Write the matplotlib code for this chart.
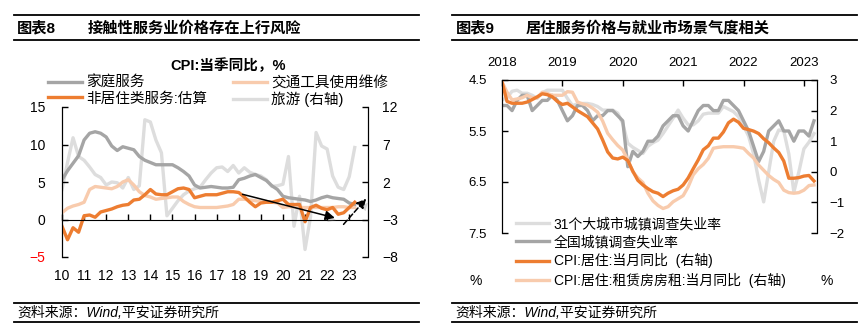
import matplotlib.pyplot as plt
import matplotlib.patheffects as pe
from matplotlib.lines import Line2D
import numpy as np

plt.rcParams['font.family'] = ['Liberation Sans', 'Noto Sans CJK SC']

# ---- 图表8: quarterly, 2010Q1 - 2023Q2 ----
q_start = 2010
home_service = [5.3, 6.5, 7.5, 8.5, 10.6, 11.5, 11.7, 11.5, 11.0, 9.8,
                9.2, 9.7, 9.5, 9.3, 8.4, 7.9, 7.6, 7.3, 7.3, 7.3,
                7.3, 6.9, 6.4, 5.8, 4.6, 4.2, 4.3, 4.4, 4.3, 4.2,
                4.2, 4.3, 5.3, 5.5, 5.8, 6.0, 5.6, 5.2, 4.5, 4.0,
                3.1, 2.9, 2.8, 2.7, 2.6, 2.4, 2.6, 2.9, 3.1, 2.9,
                2.8, 2.7, 2.2, 2.0]
vehicle_repair = [0.9, 1.5, 1.8, 2.0, 2.3, 4.0, 4.4, 4.3, 4.2, 4.1,
                  4.4, 5.0, 5.3, 4.6, 3.7, 3.2, 3.0, 2.7, 2.8, 2.9,
                  3.0, 3.0, 2.4, 2.0, 1.7, 1.6, 1.6, 1.6, 1.6, 1.7,
                  1.8, 2.0, 2.7, 2.7, 2.6, 2.5, 2.4, 2.4, 2.3, 2.2,
                  1.6, 1.7, 1.7, 1.6, 1.6, 1.6, 1.6, 1.6, 1.6, 1.6,
                  1.7, 1.7, 1.6, 1.6]
non_housing = [-0.9, -2.7, -1.1, -1.7, 0.5, 0.6, 0.3, 1.0, 1.2, 1.4,
               1.7, 1.9, 2.0, 2.6, 2.7, 3.3, 4.0, 3.4, 3.3, 3.3,
               3.7, 4.1, 4.2, 4.0, 2.9, 3.1, 3.3, 3.3, 3.3, 3.5,
               3.7, 3.7, 3.6, 3.0, 2.3, 1.7, 2.2, 2.3, 2.3, 2.5,
               2.7, 2.0, 2.0, 2.0, -0.3, 1.6, 1.9, 1.5, 1.3, 1.6,
               0.7, 0.9, 1.6, 2.3]
tourism = [1.0, 4.6, 7.9, 5.4, 4.9, 4.0, 3.0, 2.6, 1.6, 2.0,
           1.9, 1.2, 2.6, 1.0, 1.5, 10.3, 10.0, 7.6, 5.9, -2.5,
           -1.5, -0.5, 0.3, 0.8, 1.1, 1.3, 2.3, 3.2, 3.9, 4.0,
           3.4, 4.2, 3.2, 3.9, 3.3, 3.0, 2.8, 2.3, 1.4, 1.5,
           1.7, 5.4, -3.9, 0.1, -7.0, -2.6, 8.6, 6.8, 6.4, 2.8,
           1.3, 1.0, 2.7, 6.6]
years8 = list(range(2010, 2024))
year_labels8 = [str(y)[2:] for y in years8]

# ---- 图表9: monthly, 2018-01 - 2023-03 ----
unemp_31 = [4.89, 4.85, 4.72, 4.7, 4.76, 4.76, 4.8, 4.86, 4.75, 4.7,
            4.7, 4.7, 4.7, 4.86, 5.0, 4.97, 4.96, 4.96, 4.98, 5.02,
            5.09, 5.09, 5.09, 5.15, 5.35, 5.74, 5.82, 5.88, 5.94, 5.8,
            5.73, 5.68, 5.55, 5.4, 5.25, 5.09, 5.25, 5.38, 5.38, 5.3,
            5.17, 5.15, 5.15, 5.15, 5.02, 5.07, 5.12, 5.22, 5.4, 5.6,
            5.95, 6.46, 6.89, 6.3, 5.7, 5.48, 5.5, 5.95, 6.7, 6.3,
            5.85, 5.72, 5.55]
unemp_nat = [5.0, 5.0, 5.1, 4.9, 4.8, 4.8, 5.1, 5.0, 4.9, 4.9,
             4.8, 4.9, 5.1, 5.3, 5.2, 5.0, 5.0, 5.1, 5.3, 5.2,
             5.2, 5.1, 5.1, 5.2, 5.3, 6.2, 5.9, 6.0, 5.9, 5.7,
             5.7, 5.6, 5.4, 5.3, 5.2, 5.2, 5.4, 5.5, 5.3, 5.1,
             5.0, 5.0, 5.1, 5.1, 4.9, 4.9, 5.0, 5.1, 5.3, 5.5,
             5.8, 6.1, 5.9, 5.5, 5.4, 5.3, 5.5, 5.5, 5.7, 5.5,
             5.5, 5.6, 5.3]
cpi_housing = [2.94, 2.3, 2.24, 2.24, 2.24, 2.28, 2.36, 2.45, 2.55, 2.52,
               2.45, 2.3, 2.2, 2.24, 2.12, 2.0, 1.9, 1.8, 1.6, 1.4,
               1.04, 0.65, 0.45, 0.42, 0.48, 0.37, 0.02, -0.28, -0.43, -0.55,
               -0.65, -0.7, -0.81, -0.7, -0.62, -0.57, -0.43, -0.2, 0.1, 0.39,
               0.72, 0.85, 1.1, 1.1, 1.3, 1.6, 1.72, 1.62, 1.42, 1.38,
               1.33, 1.25, 1.08, 0.95, 0.78, 0.63, 0.35, -0.21, -0.21, -0.19,
               -0.14, -0.12, -0.3]
cpi_rent = [2.94, 2.6, 2.35, 2.38, 2.42, 2.5, 2.42, 2.42, 2.6, 2.56,
            2.5, 2.5, 2.5, 2.62, 2.6, 2.28, 2.22, 2.18, 2.08, 1.95,
            1.66, 1.26, 1.05, 0.86, 0.71, 0.39, 0.0, -0.2, -0.35, -0.7,
            -0.95, -1.1, -1.2, -1.14, -0.98, -0.88, -0.78, -0.49, -0.1, 0.1,
            0.24, 0.44, 0.77, 0.8, 0.82, 0.82, 0.82, 0.8, 0.77, 0.6,
            0.45, 0.22, 0.05, -0.12, -0.25, -0.35, -0.6, -0.68, -0.7, -0.68,
            -0.6, -0.45, -0.43]
years9 = ['2018', '2019', '2020', '2021', '2022', '2023']

ORANGE = '#ED7D31'
PEACH = '#F8CBAD'
GRAY = '#A5A5A5'
LIGHT = '#DDDDDD'

fig = plt.figure(figsize=(8.68, 3.32), dpi=100)
W, H = 868.0, 332.0


def fx(px):
    return px / W


def fy(py):
    return 1 - py / H


# headers / footers
for x0, x1 in [(14, 419), (452, 857)]:
    for yy in [15, 40, 303, 322]:
        fig.add_artist(Line2D([fx(x0), fx(x1)], [fy(yy), fy(yy)], color='black', lw=1.3))
fig.text(fx(17), fy(28), '图表8', fontsize=11, fontweight='bold', va='center')
fig.text(fx(88), fy(28), '接触性服务业价格存在上行风险', fontsize=11, fontweight='bold', va='center')
fig.text(fx(456), fy(28), '图表9', fontsize=11, fontweight='bold', va='center')
fig.text(fx(526), fy(28), '居住服务价格与就业市场景气度相关', fontsize=11, fontweight='bold', va='center')
fig.text(fx(17), fy(313), '资料来源：Wind,平安证券研究所', fontsize=10, style='italic', va='center')
fig.text(fx(455), fy(313), '资料来源：Wind,平安证券研究所', fontsize=10, style='italic', va='center')

# ---------------- left chart ----------------
xq = q_start + 0.25 * np.arange(len(home_service))
ax1 = fig.add_axes([fx(62), fy(257), fx(306), 150 / H])
ax1r = ax1.twinx()
ax1r.plot(xq, tourism, color=LIGHT, lw=2.4, label='旅游 (右轴)')
ax1.set_zorder(ax1r.get_zorder() + 1)
ax1.patch.set_visible(False)
ax1.plot(xq, home_service, color=GRAY, lw=2.4, label='家庭服务')
ax1.plot(xq, vehicle_repair, color=PEACH, lw=2.4, label='交通工具使用维修')
ax1.plot(xq, non_housing, color=ORANGE, lw=2.4, label='非居住类服务:估算')

ax1.set_xlim(2010, 2023.85)
ax1.set_ylim(-5, 15)
ax1r.set_ylim(-8, 12)
ax1.set_yticks([15, 10, 5, 0, -5])
ax1r.set_yticks([12, 7, 2, -3, -8])
ax1.set_xticks(years8)
ax1.set_xticklabels(year_labels8)
ax1.get_yticklabels()[-1].set_color('red')
for a in (ax1, ax1r):
    a.spines['top'].set_visible(False)
    a.tick_params(direction='in', length=4, width=1, labelsize=10)
ax1r.spines['bottom'].set_visible(False)
ax1.spines['bottom'].set_position(('data', 0))
ax1.tick_params(axis='y', pad=12)
ax1r.tick_params(axis='y', pad=10)
ax1.tick_params(axis='x', pad=36)

a1 = ax1.annotate('', xy=(2022.47, 0.13), xytext=(2018.05, 3.45),
                  arrowprops=dict(arrowstyle='-|>', color='black', lw=1.1, mutation_scale=14),
                  annotation_clip=False)
a2 = ax1.annotate('', xy=(2023.85, 3.05), xytext=(2022.66, -0.93),
                  arrowprops=dict(arrowstyle='-|>', color='black', lw=1.1, ls='--', mutation_scale=14),
                  annotation_clip=False)
for a in (a1, a2):
    a.arrow_patch.set_path_effects([pe.withSimplePatchShadow(offset=(2, -2), shadow_rgbFace='gray', alpha=0.35)])

fig.text(fx(228), fy(66), 'CPI:当季同比，%', fontsize=10.5, fontweight='bold', ha='center', va='center')
h = dict((l.get_label(), l) for l in ax1.get_lines() + ax1r.get_lines())
order = ['家庭服务', '非居住类服务:估算', '交通工具使用维修', '旅游 (右轴)']
fig.legend([h[k] for k in order], order, ncol=2, loc='upper left',
           bbox_to_anchor=(fx(48), fy(76)), frameon=False, fontsize=10.5,
           handlelength=2.3, handletextpad=0.3, columnspacing=1.8,
           labelspacing=0.1, borderpad=0, borderaxespad=0)

# ---------------- right chart ----------------
xm = np.arange(len(unemp_nat))
ax2 = fig.add_axes([fx(502), fy(233), fx(315), 153 / H])
ax2r = ax2.twinx()
l1, = ax2.plot(xm, unemp_31, color=LIGHT, lw=2.4, label='31个大城市城镇调查失业率')
l2, = ax2.plot(xm, unemp_nat, color=GRAY, lw=2.4, label='全国城镇调查失业率')
l4, = ax2r.plot(xm, cpi_rent, color=PEACH, lw=2.4, label='CPI:居住:租赁房房租:当月同比  (右轴)')
l3, = ax2r.plot(xm, cpi_housing, color=ORANGE, lw=2.4, label='CPI:居住:当月同比  (右轴)')

ax2.set_xlim(0, 62.6)
ax2.set_ylim(7.5, 4.5)
ax2.set_yticks([4.5, 5.5, 6.5, 7.5])
ax2r.set_ylim(-2, 3)
ax2r.set_yticks([3, 2, 1, 0, -1, -2])
ax2.xaxis.tick_top()
ax2.set_xticks(np.arange(len(years9)) * 12)
ax2.set_xticklabels(years9)
for a in (ax2, ax2r):
    a.spines['bottom'].set_visible(False)
    a.tick_params(direction='in', length=4, width=1, labelsize=9.5)
ax2.tick_params(axis='x', pad=8, top=True, bottom=False)
ax2.tick_params(axis='y', pad=11)
ax2r.tick_params(axis='y', pad=9)

ax2r.legend([l1, l2, l3, l4], [l.get_label() for l in (l1, l2, l3, l4)],
            loc='upper left', bbox_to_anchor=(fx(516), fy(217)),
            bbox_transform=fig.transFigure, frameon=False, fontsize=10,
            handlelength=2.4, handletextpad=0.3, labelspacing=0.3,
            borderpad=0, borderaxespad=0)
fig.text(fx(476), fy(281), '%', fontsize=10, ha='center', va='center')
fig.text(fx(827), fy(281), '%', fontsize=10, ha='center', va='center')

fig.savefig('out.png', dpi=100)
